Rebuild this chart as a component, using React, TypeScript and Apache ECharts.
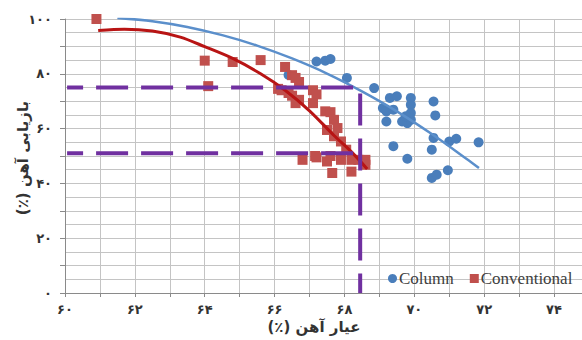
import React, { useEffect, useRef } from "react";
import * as echarts from "echarts";

// ---- data ----
const seriesNames = ["Column", "Conventional"];

const columnGrade = [66.4, 67.2, 67.45, 67.6, 68.07, 68.85, 69.3, 69.5, 69.9, 69.9, 69.1, 69.2, 69.4, 69.2, 69.65, 69.8, 69.9, 69.9, 70.55, 70.6, 70.55, 70.5, 69.4, 69.8, 71.0, 71.2, 71.84, 70.5, 70.64, 70.96, 69.75];
const columnRecovery = [79.6, 84.5, 84.8, 85.4, 78.5, 74.8, 71.2, 71.8, 71.2, 68.7, 67.5, 66.3, 66.9, 62.6, 62.6, 62.0, 63.2, 65.7, 69.9, 64.8, 56.6, 52.3, 53.6, 49.0, 55.3, 56.3, 55.0, 42.0, 43.2, 44.8, 64.5];

const conventionalGrade = [60.9, 64.0, 64.8, 65.6, 64.1, 66.1, 66.3, 66.5, 66.6, 66.7, 66.2, 66.4, 66.5, 66.7, 66.6, 67.1, 67.2, 67.1, 67.45, 67.6, 67.7, 67.8, 67.5, 67.7, 67.9, 68.05, 66.8, 67.2, 67.5, 67.6, 67.9, 68.2, 68.4, 68.6, 68.6, 68.2, 67.65, 67.16];
const conventionalRecovery = [100, 84.8, 84.3, 85, 75.5, 74.5, 82.5, 79.5, 78.5, 77, 74, 73, 72, 70.5, 69.3, 74, 72.5, 69.3, 66.3, 66, 63.2, 60.2, 59.5, 57.2, 55.3, 52.3, 48.6, 49.5, 48, 50, 48.6, 48.6, 48.6, 48.6, 46.8, 44.3, 43.8, 50];

const columnTrendGrade = [61.5, 62.5, 63.5, 64.5, 65.5, 66.5, 67.5, 68.5, 69.5, 70.5, 71.5, 71.85];
const columnTrendRecovery = [100.4, 99.2, 97.1, 94.1, 90.3, 85.6, 80.1, 73.6, 66.3, 58.0, 48.9, 45.6];

const conventionalTrendGrade = [60.95, 61.7, 62.5, 63.3, 64.0, 64.8, 65.6, 66.3, 67.0, 67.7, 68.2, 68.65];
const conventionalTrendRecovery = [95.8, 96.3, 95.6, 93.4, 89.9, 85.6, 80.0, 74.0, 66.5, 57.5, 51.5, 45.3];

const targetRecoveries = [75, 51];
const cutoffGrade = 68.45;
const guideStartGrade = 60.06;

const xTickLabels = [60, 62, 64, 66, 68, 70, 72, 74];
const yTickLabels = [0, 20, 40, 60, 80, 100];

const xTitle = "عیار آهن (٪)";
const yTitle = "بازیابی آهن (٪)";

const RLM = "\u200F";
const rtl = (s: string) => RLM + s + RLM;
const faDigits = "۰۱۲۳۴۵۶۷۸۹";
const toFa = (n: number) => String(n).replace(/\d/g, (d) => faDigits[+d]);
const near = (v: number, list: number[]) => list.find((t) => Math.abs(t - v) < 1e-6);

const zip = (a: number[], b: number[]) => a.map((v, i) => [v, b[i]]);

export default function App() {
  const ref = useRef<HTMLDivElement>(null);
  useEffect(() => {
    if (!ref.current) return;
    const chart = echarts.init(ref.current, null, { renderer: "svg" });
    const labelFont = "'DejaVu Sans', sans-serif";
    const purple = "#7030A0";
    chart.setOption({
      animation: false,
      backgroundColor: "#ffffff",
      grid: { left: 65, top: 19, right: 0, bottom: 47, containLabel: false },
      legend: {
        data: [
          { name: seriesNames[0], icon: "circle" },
          { name: seriesNames[1], icon: "rect" },
        ],
        left: 383,
        top: 265,
        itemWidth: 9,
        itemHeight: 9,
        itemGap: 16,
        textStyle: { fontFamily: "'Liberation Serif', serif", fontSize: 17, color: "#404040", padding: [0, 0, 0, -3] },
      },
      xAxis: {
        type: "value",
        min: 60,
        max: 74.8,
        interval: 1,
        axisLine: { show: true, onZero: false, lineStyle: { color: "#8a8a8a", width: 1 } },
        axisTick: { show: true, inside: false, length: 4, lineStyle: { color: "#8a8a8a" } },
        splitLine: { show: true, lineStyle: { color: "#c4c4c4", width: 1 } },
        axisLabel: {
          margin: 10,
          fontFamily: labelFont,
          fontWeight: "bold",
          fontSize: 13,
          color: "#333",
          showMaxLabel: false,
          formatter: (v: number) => {
            const t = near(v, xTickLabels);
            return t === undefined ? "" : toFa(t);
          },
        },
      },
      yAxis: [
        {
          type: "value",
          min: 0,
          max: 100,
          interval: 5,
          axisLine: { show: true, lineStyle: { color: "#8a8a8a", width: 1 } },
          axisTick: { show: false },
          axisLabel: { show: false },
          splitLine: { show: true, lineStyle: { color: "#c4c4c4", width: 1 } },
        },
        {
          type: "value",
          min: 0,
          max: 100,
          interval: 10,
          position: "left",
          axisLine: { show: false },
          axisTick: { show: true, length: 5, lineStyle: { color: "#8a8a8a" } },
          splitLine: { show: false },
          axisLabel: {
            margin: 13,
            fontFamily: labelFont,
            fontWeight: "bold",
            fontSize: 13,
            color: "#333",
            formatter: (v: number) => {
              const t = near(v, yTickLabels);
              return t === undefined ? "" : toFa(t);
            },
          },
        },
      ],
      series: [
        {
          name: seriesNames[0],
          type: "scatter",
          symbol: "circle",
          symbolSize: 10,
          itemStyle: { color: "#4A7EBB", opacity: 1 },
          data: zip(columnGrade, columnRecovery),
          z: 2,
        },
        {
          name: seriesNames[1],
          type: "scatter",
          symbol: "rect",
          symbolSize: 10,
          itemStyle: { color: "#C0504D", opacity: 1 },
          data: zip(conventionalGrade, conventionalRecovery),
          z: 2,
        },
        {
          name: "Column trend",
          type: "line",
          smooth: 0.3,
          showSymbol: false,
          symbol: "none",
          lineStyle: { color: "#5B8FCB", width: 2.5 },
          data: zip(columnTrendGrade, columnTrendRecovery),
          z: 3,
        },
        {
          name: "Conventional trend",
          type: "line",
          smooth: 0.3,
          showSymbol: false,
          symbol: "none",
          lineStyle: { color: "#B81414", width: 3 },
          data: zip(conventionalTrendGrade, conventionalTrendRecovery),
          z: 3,
        },
        {
          name: "Guide upper",
          type: "line",
          showSymbol: false,
          symbol: "none",
          lineStyle: { color: purple, width: 4, type: [32, 13], dashOffset: 16, cap: "butt" },
          data: [
            [guideStartGrade, targetRecoveries[0]],
            [cutoffGrade, targetRecoveries[0]],
            [cutoffGrade, 0],
          ],
          z: 4,
        },
        {
          name: "Guide lower",
          type: "line",
          showSymbol: false,
          symbol: "none",
          lineStyle: { color: purple, width: 4, type: [32, 13], dashOffset: 16, cap: "butt" },
          data: [
            [guideStartGrade, targetRecoveries[1]],
            [cutoffGrade, targetRecoveries[1]],
          ],
          z: 4,
        },
      ],
      graphic: [
        {
          type: "text",
          x: 314,
          y: 327,
          style: {
            text: rtl(xTitle),
            font: "bold 15px 'DejaVu Sans', sans-serif",
            fill: "#333",
            align: "center",
            verticalAlign: "middle",
          },
        },
        {
          type: "text",
          x: 23,
          y: 158,
          rotation: Math.PI / 2,
          style: {
            text: rtl(yTitle),
            font: "bold 15px 'DejaVu Sans', sans-serif",
            fill: "#333",
            align: "center",
            verticalAlign: "middle",
          },
        },
      ],
    });
    return () => chart.dispose();
  }, []);
  return (
    <div
      ref={ref}
      style={{ position: "fixed", left: 0, top: 0, width: 582, height: 340 }}
    />
  );
}
